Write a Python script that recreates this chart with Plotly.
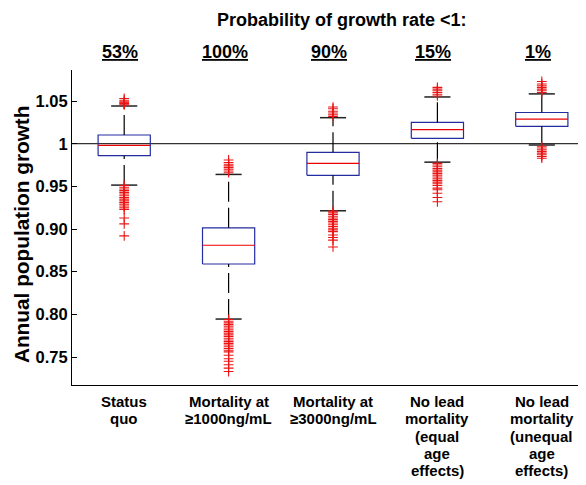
import plotly.graph_objects as go

# ---------------- data ----------------
positions = [1, 2, 3, 4, 5]
cat_lines = [
    ["Status", "quo"],
    ["Mortality at", "≥1000ng/mL"],
    ["Mortality at", "≥3000ng/mL"],
    ["No lead", "mortality", "(equal", "age", "effects)"],
    ["No lead", "mortality", "(unequal", "age", "effects)"],
]
prob_labels = ["53%", "100%", "90%", "15%", "1%"]

q1 = [0.9860, 0.8590, 0.9629, 1.0063, 1.0204]
median = [0.9980, 0.8810, 0.9770, 1.0165, 1.0288]
q3 = [1.0102, 0.9014, 0.9899, 1.0251, 1.0366]
lower_whisker = [0.9515, 0.7945, 0.9214, 0.9784, 0.9985]
upper_whisker = [1.0442, 0.9640, 1.0305, 1.0548, 1.0584]

outliers = [
    [1.0455, 1.047, 1.048, 1.049, 1.051, 1.053,
     0.951, 0.949, 0.947, 0.945, 0.943, 0.941, 0.939, 0.937, 0.935, 0.933,
     0.931, 0.929, 0.927, 0.925, 0.923, 0.913, 0.906, 0.892],
    [0.966, 0.968, 0.970, 0.972, 0.974, 0.976, 0.978, 0.981,
     0.794, 0.792, 0.790, 0.788, 0.786, 0.784, 0.782, 0.780, 0.778, 0.776,
     0.774, 0.772, 0.770, 0.768, 0.766, 0.764, 0.762, 0.760, 0.758, 0.756,
     0.752, 0.748, 0.745, 0.741, 0.737, 0.733],
    [1.032, 1.034, 1.036, 1.038, 1.041, 1.043,
     0.921, 0.919, 0.917, 0.915, 0.913, 0.911, 0.909, 0.907, 0.905, 0.903,
     0.901, 0.899, 0.897, 0.893, 0.890, 0.887, 0.879],
    [1.056, 1.058, 1.060, 1.062, 1.064, 1.066,
     0.977, 0.975, 0.973, 0.971, 0.969, 0.967, 0.965, 0.963, 0.961, 0.959,
     0.957, 0.955, 0.953, 0.951, 0.948, 0.946, 0.942, 0.937, 0.932],
    [1.060, 1.062, 1.064, 1.066, 1.068, 1.070, 1.073,
     0.997, 0.995, 0.993, 0.991, 0.989, 0.987, 0.985, 0.983],
]

ytick_vals = [1.05, 1.0, 0.95, 0.90, 0.85, 0.80, 0.75]
ytick_text = ["1.05", "1", "0.95", "0.90", "0.85", "0.80", "0.75"]

# ---------------- style ----------------
FONT = "Liberation Sans, Arial, sans-serif"
BOX_HALF = 0.25
CAP_HALF = 0.125
BOX_COLOR = "rgb(35,45,160)"
MED_COLOR = "rgb(235,0,0)"
WHISK_COLOR = "black"
OUT_COLOR = "rgb(235,20,20)"

fig = go.Figure()

for i, x in enumerate(positions):
    # box outline
    fig.add_trace(go.Scatter(
        x=[x - BOX_HALF, x + BOX_HALF, x + BOX_HALF, x - BOX_HALF, x - BOX_HALF],
        y=[q1[i], q1[i], q3[i], q3[i], q1[i]],
        mode="lines", line=dict(color=BOX_COLOR, width=1.2),
        hoverinfo="skip", showlegend=False))
    # median
    fig.add_trace(go.Scatter(
        x=[x - BOX_HALF, x + BOX_HALF], y=[median[i], median[i]],
        mode="lines", line=dict(color=MED_COLOR, width=1.2),
        hoverinfo="skip", showlegend=False))
    # whiskers (dashed, drawn bottom -> top)
    fig.add_trace(go.Scatter(
        x=[x, x], y=[q3[i], upper_whisker[i]],
        mode="lines", line=dict(color=WHISK_COLOR, width=1.2, dash="20px,6px"),
        hoverinfo="skip", showlegend=False))
    fig.add_trace(go.Scatter(
        x=[x, x], y=[lower_whisker[i], q1[i]],
        mode="lines", line=dict(color=WHISK_COLOR, width=1.2, dash="20px,6px"),
        hoverinfo="skip", showlegend=False))
    # caps
    for w in (upper_whisker[i], lower_whisker[i]):
        fig.add_trace(go.Scatter(
            x=[x - CAP_HALF, x + CAP_HALF], y=[w, w],
            mode="lines", line=dict(color="#222", width=1.5),
            hoverinfo="skip", showlegend=False))
    # outliers
    fig.add_trace(go.Scatter(
        x=[x] * len(outliers[i]), y=outliers[i], mode="markers",
        marker=dict(symbol="cross-thin", size=7,
                    line=dict(color=OUT_COLOR, width=1.1)),
        hoverinfo="skip", showlegend=False))

# reference line at growth = 1
fig.add_hline(y=1.0, line=dict(color="#333", width=1.3), layer="below")

annotations = []
# title
annotations.append(dict(
    text="<b>Probability of growth rate <1:</b>", x=0.518, y=1.1587,
    xref="paper", yref="paper", xanchor="center", yanchor="middle",
    showarrow=False, font=dict(family=FONT, size=18, color="black")))
# probability labels
for x, p in zip(positions, prob_labels):
    annotations.append(dict(
        text="<b><u>" + p + "</u></b>", x=x, y=1.057, xshift=-4,
        xref="x", yref="paper", xanchor="center", yanchor="middle",
        showarrow=False, font=dict(family=FONT, size=18, color="black")))
# category labels, one annotation per line
for x, lines in zip(positions, cat_lines):
    for k, line in enumerate(lines):
        annotations.append(dict(
            text="<b>" + line + "</b>", x=x, y=0, yshift=-6 - k * 17.3,
            xref="x", yref="paper", xanchor="center", yanchor="top",
            showarrow=False, font=dict(family=FONT, size=15, color="black")))
# y-axis title
annotations.append(dict(
    text="<b>Annual population growth</b>", x=-0.0977, y=0.479,
    xref="paper", yref="paper", xanchor="center", yanchor="middle",
    textangle=-90, showarrow=False,
    font=dict(family=FONT, size=20.8, color="black")))

fig.update_layout(
    width=586, height=485,
    margin=dict(l=64, r=0, t=62, b=108),
    plot_bgcolor="white", paper_bgcolor="white",
    font=dict(family=FONT, color="black"),
    annotations=annotations,
    showlegend=False,
)
fig.update_xaxes(
    range=[0.5, 5.5], showgrid=False, zeroline=False,
    showline=True, linecolor="black", linewidth=1.2,
    showticklabels=False, ticks="")
fig.update_yaxes(
    range=[0.7172, 1.0864], showgrid=False, zeroline=False,
    showline=True, linecolor="black", linewidth=1.2,
    tickvals=ytick_vals, ticktext=ytick_text,
    ticks="inside", ticklen=5, tickcolor="black", tickwidth=1.2,
    tickfont=dict(family=FONT, size=16.5, color="black", weight="bold"))

fig.write_html("out.html")
